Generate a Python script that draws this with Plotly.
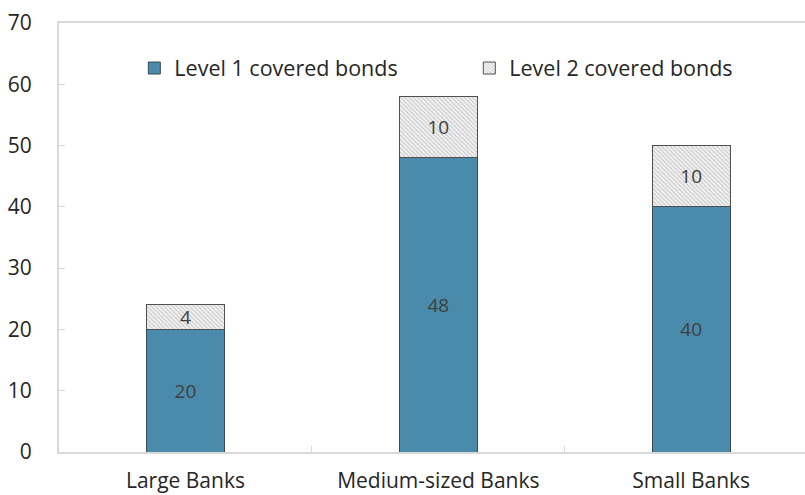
import plotly.graph_objects as go

categories = ["Large Banks", "Medium-sized Banks", "Small Banks"]
level1 = [20, 48, 40]
level2 = [4, 10, 10]
y_ticks = [0, 10, 20, 30, 40, 50, 60, 70]

FONT = "Open Sans, Noto Sans, sans-serif"

fig = go.Figure()
fig.add_trace(go.Bar(
    x=categories, y=level1, name="Level 1 covered bonds", legend="legend",
    marker=dict(color="#4a8aab", line=dict(color="#3a4a55", width=1)),
    width=0.31, text=[str(v) for v in level1], textposition="inside",
    insidetextanchor="middle", textangle=0, constraintext="none",
    textfont=dict(color="#404040", size=19, family=FONT),
))
fig.add_trace(go.Bar(
    x=categories, y=level2, name="Level 2 covered bonds", legend="legend2",
    marker=dict(color="#e6e6e6", line=dict(color="#505050", width=1),
                pattern=dict(shape="\\", fgcolor="#9a9a9a", bgcolor="#f2f2f2",
                             size=3, solidity=0.35)),
    width=0.31, text=[str(v) for v in level2], textposition="inside",
    insidetextanchor="middle", textangle=0, constraintext="none",
    textfont=dict(color="#404040", size=19, family=FONT),
))

leg_common = dict(orientation="h", yanchor="middle", y=0.895, xanchor="left",
                  font=dict(size=21.5, color="#262626"), itemwidth=30,
                  bgcolor="rgba(0,0,0,0)")
fig.update_layout(
    barmode="stack",
    width=805, height=495,
    margin=dict(l=59, r=0, t=23, b=43),
    paper_bgcolor="white", plot_bgcolor="white",
    font=dict(family=FONT, size=21, color="#262626"),
    legend=dict(x=0.101, **leg_common),
    legend2=dict(x=0.550, **leg_common),
    showlegend=True,
)
fig.update_xaxes(
    range=[-0.5, 2.45], showline=True, linecolor="#d9d9d9", linewidth=2, mirror=True,
    ticks="inside", tickson="boundaries", ticklen=6, tickcolor="#d9d9d9",
    showgrid=False, tickfont=dict(size=21, color="#262626"), ticklabelstandoff=9,
    automargin=False,
)
fig.update_yaxes(
    range=[0, 70], tickvals=y_ticks, showline=True, linecolor="#d9d9d9", linewidth=2,
    mirror=True, ticks="inside", ticklen=6, tickcolor="#d9d9d9", showgrid=False,
    zeroline=False, tickfont=dict(size=21, color="#262626"), ticklabelstandoff=21,
    automargin=False,
)

fig.write_html("out.html", config={"displayModeBar": False},
               post_script="document.body.style.margin='0';document.body.style.overflow='hidden';")
